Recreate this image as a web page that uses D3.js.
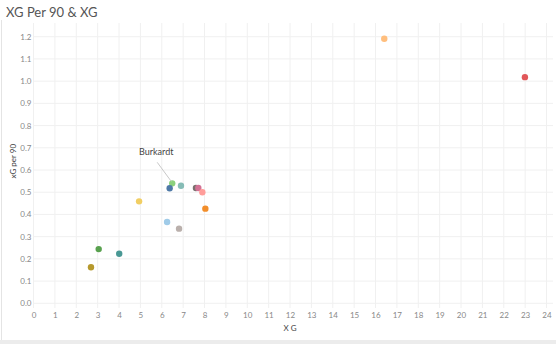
<!DOCTYPE html>
<html>
<head>
<meta charset="utf-8">
<script src="https://cdn.jsdelivr.net/npm/d3@7/dist/d3.min.js"></script>
<style>
  html, body { margin: 0; padding: 0; background: #fff; }
  svg { display: block; font-family: Lato, "Open Sans", sans-serif; }
</style>
</head>
<body>
<svg id="chart" width="556" height="344"></svg>
<script>
// Player expected goals (total) and expected goals per 90 minutes
const xgTotal   = [6.49, 6.37, 6.90, 7.60, 7.71, 7.90, 8.04, 4.94, 6.25, 6.81, 3.05, 4.01, 2.69, 16.41, 22.99];
const xgPer90   = [0.540, 0.518, 0.529, 0.519, 0.519, 0.500, 0.426, 0.459, 0.366, 0.336, 0.244, 0.223, 0.162, 1.191, 1.018];
const dotColors = ["#8cd17d", "#4e79a7", "#86bcb6", "#79706e", "#d37295", "#ff9d9a", "#f28e2b", "#f1ce63",
                   "#a0cbe8", "#bab0ac", "#59a14f", "#499894", "#b6992d", "#ffbe7d", "#e15759"];
const dotLabels = ["Burkardt", "", "", "", "", "", "", "", "", "", "", "", "", "", ""];

const xTicks = d3.range(0, 25, 1);
const yTicks = d3.range(0, 13, 1).map(d => d / 10);

const svg = d3.select("#chart");
const W = 556, H = 344;

// frame of the view
svg.append("rect").attr("x", 0).attr("y", 0).attr("width", W).attr("height", H).attr("fill", "#fff");
svg.append("line").attr("x1", 1.5).attr("x2", 1.5).attr("y1", 20).attr("y2", 340)
  .attr("stroke", "#e4e4e4").attr("stroke-width", 1);
svg.append("rect").attr("x", 0).attr("y", 340).attr("width", W).attr("height", 4).attr("fill", "#ececec");

// title
svg.append("text").attr("x", 6).attr("y", 17)
  .attr("font-size", 13).attr("fill", "#555").text("XG Per 90 & XG");

const plot = { left: 33.5, right: 553, top: 23, bottom: 308 };

const x = d3.scaleLinear().domain([0, 24]).range([33.5, 546.5]);
const y = d3.scaleLinear().domain([0, 1.2]).range([303.3, 36.7]);

// gridlines
const grid = svg.append("g");
grid.selectAll("line.v").data(xTicks).join("line")
  .attr("x1", d => x(d)).attr("x2", d => x(d))
  .attr("y1", plot.top).attr("y2", plot.bottom)
  .attr("stroke", "#f0f0f0").attr("stroke-width", 1);
grid.selectAll("line.h").data(yTicks).join("line")
  .attr("x1", plot.left).attr("x2", plot.right)
  .attr("y1", d => y(d)).attr("y2", d => y(d))
  .attr("stroke", "#f0f0f0").attr("stroke-width", 1);

// axes (labels only)
const xAxis = svg.append("g").attr("transform", `translate(0,${plot.bottom})`)
  .call(d3.axisBottom(x).tickValues(xTicks).tickSize(0).tickPadding(4).tickFormat(d3.format("d")));
const yAxis = svg.append("g").attr("transform", `translate(${plot.left},0)`)
  .call(d3.axisLeft(y).tickValues(yTicks).tickSize(0).tickPadding(2).tickFormat(d3.format(".1f")));
[xAxis, yAxis].forEach(a => {
  a.select(".domain").remove();
  a.selectAll("text").attr("font-size", 8).attr("fill", "#888")
    .attr("font-family", "Lato, 'Open Sans', sans-serif");
});

// axis titles
svg.append("text").attr("x", x(12)).attr("y", 331).attr("text-anchor", "middle")
  .attr("font-size", 8).attr("fill", "#444").text("X G");
svg.append("text").attr("transform", `translate(16,${y(0.64)}) rotate(-90)`)
  .attr("text-anchor", "middle").attr("font-size", 8).attr("fill", "#444").text("xG per 90");

// points
const pts = xgTotal.map((v, i) => ({ xg: v, p90: xgPer90[i], color: dotColors[i], label: dotLabels[i] }));
svg.append("g").selectAll("circle").data(pts).join("circle")
  .attr("cx", d => x(d.xg)).attr("cy", d => y(d.p90)).attr("r", 3.2)
  .attr("fill", d => d.color);

// annotation
const lab = pts.filter(d => d.label);
const ann = svg.append("g");
ann.selectAll("line").data(lab).join("line")
  .attr("x1", d => x(d.xg) - 15).attr("y1", d => y(d.p90) - 21)
  .attr("x2", d => x(d.xg) - 1).attr("y2", d => y(d.p90) - 2)
  .attr("stroke", "#c8c8c8").attr("stroke-width", 1);
ann.selectAll("text").data(lab).join("text")
  .attr("x", d => x(d.xg) - 16).attr("y", d => y(d.p90) - 28)
  .attr("text-anchor", "middle").attr("font-size", 9).attr("fill", "#444")
  .text(d => d.label);
</script>
</body>
</html>
